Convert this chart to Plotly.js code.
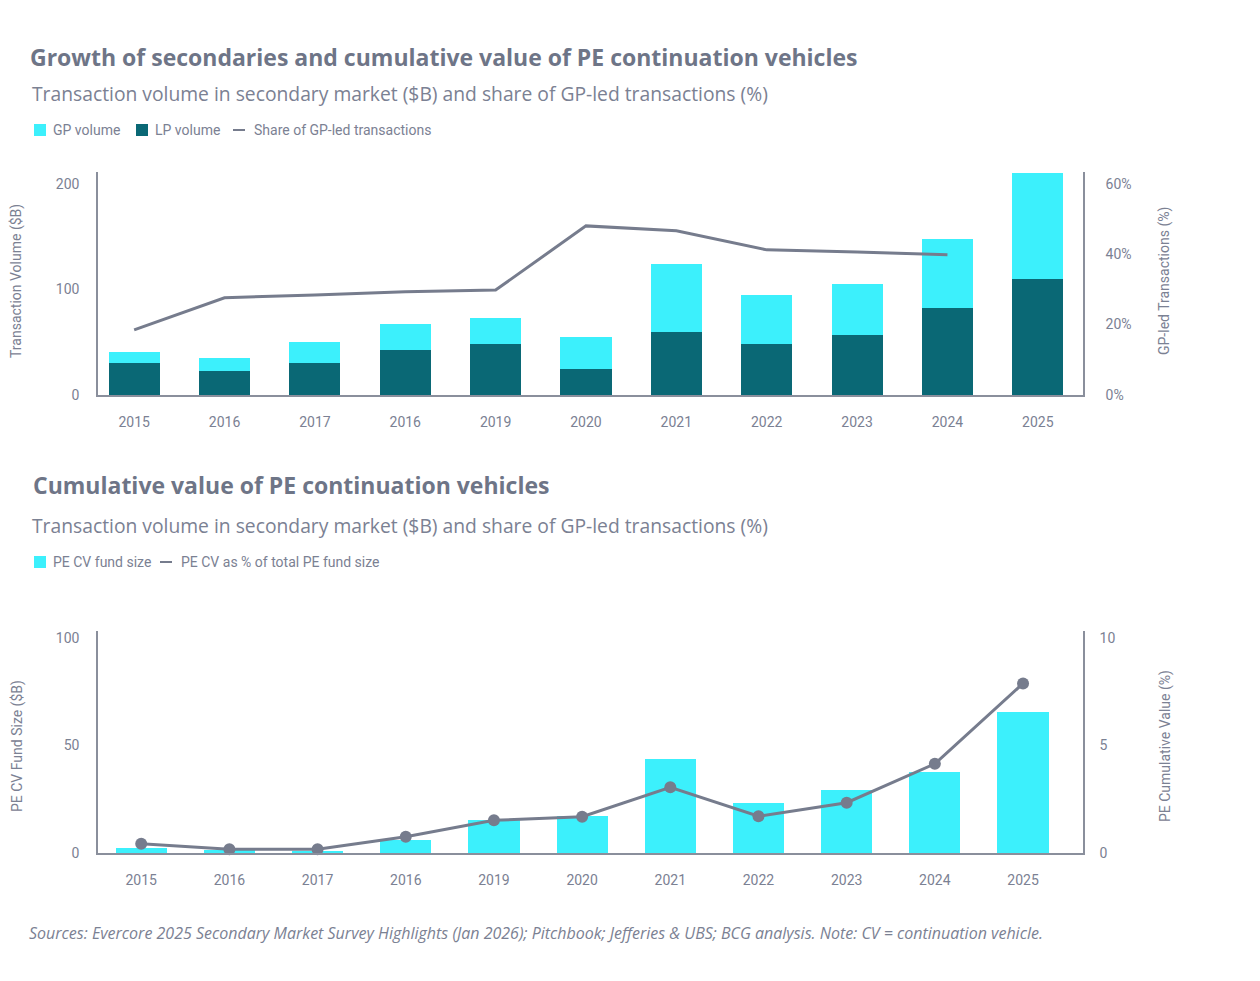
<!DOCTYPE html>
<html>
<head>
<meta charset="utf-8">
<script src="https://cdn.plot.ly/plotly-3.0.1.min.js"></script>
<style>
  html, body { margin: 0; padding: 0; background: #ffffff; }
  #chart { width: 1260px; height: 981px; }
</style>
</head>
<body>
<div id="chart"></div>
<script>
// ── Data ───────────────────────────────────────────────────────────────────
// year labels as printed in the source (note the repeated "2016")
const YEARS = ['2015', '2016', '2017', '2016', '2019', '2020', '2021', '2022', '2023', '2024', '2025'];

// Top panel: secondary market volume ($B) and GP-led share (%)
const LP_VOLUME = [30, 23, 30, 43, 48, 25, 60, 48, 57, 82, 110];
const GP_VOLUME = [10.5, 12, 20, 24, 24.5, 30, 63.5, 46.5, 48.5, 66, 100];
const GP_LED_SHARE = [18.5, 27.6, 28.4, 29.3, 29.8, 48, 46.6, 41.2, 40.6, 39.8, null];
const SHARE_TICKS = [0, 20, 40, 60];

// Bottom panel: PE continuation vehicle fund size ($B) and share of total PE (%)
const CV_FUND_SIZE = [2.3, 1.4, 0.6, 6, 15.3, 17.2, 43.7, 23.3, 29.3, 37.7, 65.6];
const CV_SHARE = [0.43, 0.17, 0.17, 0.76, 1.52, 1.69, 3.06, 1.71, 2.34, 4.15, 7.89];

// ── Design tokens ──────────────────────────────────────────────────────────
const CYAN = '#3cf0fc';
const TEAL = '#0a6875';
const LINE = '#767c8d';
const TITLE_C = '#6e7587';
const TEXT_C = '#7b8193';
const AXIS_C = '#8a8f9c';

const NARROW = 'Roboto, "Liberation Sans", sans-serif';
const SANS = '"Open Sans", "Noto Sans", sans-serif';

const W = 1260, H = 981;
const px = x => x / W;          // paper x from pixel
const py = y => 1 - y / H;      // paper y from pixel

const idx = YEARS.map((_, i) => i);

// ── Traces ─────────────────────────────────────────────────────────────────
const traces = [
  { type: 'bar', x: idx, y: LP_VOLUME, name: 'LP volume', xaxis: 'x', yaxis: 'y',
    width: 0.565, marker: { color: TEAL }, showlegend: false,
    hovertemplate: 'LP volume: %{y}<extra></extra>' },
  { type: 'bar', x: idx, y: GP_VOLUME, name: 'GP volume', xaxis: 'x', yaxis: 'y',
    width: 0.565, marker: { color: CYAN }, showlegend: false,
    hovertemplate: 'GP volume: %{y}<extra></extra>' },
  { type: 'scatter', mode: 'lines', x: idx, y: GP_LED_SHARE, name: 'Share of GP-led transactions',
    xaxis: 'x', yaxis: 'y2', line: { color: LINE, width: 3 }, showlegend: false,
    hovertemplate: '%{y}%<extra></extra>' },

  { type: 'bar', x: idx, y: CV_FUND_SIZE, name: 'PE CV fund size', xaxis: 'x3', yaxis: 'y3',
    width: 0.58, marker: { color: CYAN }, showlegend: false,
    hovertemplate: '%{y}<extra></extra>' },
  { type: 'scatter', mode: 'lines+markers', x: idx, y: CV_SHARE, name: 'PE CV as % of total PE fund size',
    xaxis: 'x3', yaxis: 'y4', line: { color: LINE, width: 3 },
    marker: { color: LINE, size: 12 }, cliponaxis: false, showlegend: false,
    hovertemplate: '%{y}%<extra></extra>' },
];

// ── Axes ───────────────────────────────────────────────────────────────────
const tickFont = { family: NARROW, size: 14, color: TEXT_C };

function xAxis(range, anchor) {
  return {
    domain: [px(98), px(1083)], range, anchor,
    tickmode: 'array', tickvals: idx, ticktext: YEARS,
    showline: true, linecolor: AXIS_C, linewidth: 1.5,
    showgrid: false, zeroline: false,
    ticks: 'outside', ticklen: 13, tickcolor: 'rgba(0,0,0,0)',
    tickfont: tickFont, fixedrange: true,
  };
}

function yAxis(domain, range, tickvals, extra) {
  return Object.assign({
    domain, range, tickmode: 'array', tickvals,
    showline: true, linecolor: AXIS_C, linewidth: 1.5,
    showgrid: false, zeroline: false,
    ticks: 'outside', ticklen: 14, tickcolor: 'rgba(0,0,0,0)',
    tickfont: tickFont, fixedrange: true,
  }, extra || {});
}

// ── Text ───────────────────────────────────────────────────────────────────
function label(text, x, y, font, extra) {
  return Object.assign({
    text, x: px(x), y: py(y), xref: 'paper', yref: 'paper',
    xanchor: 'left', yanchor: 'middle', showarrow: false, font,
  }, extra || {});
}

const titleFont = { family: SANS, size: 23, color: TITLE_C, weight: 700 };
const subFont = { family: SANS, size: 19.3, color: TEXT_C, weight: 400 };
const legFont = { family: NARROW, size: 14, color: TEXT_C };
const axTitleFont = { family: NARROW, size: 14, color: TEXT_C };

const annotations = [
  label('Growth of secondaries and cumulative value of PE continuation vehicles', 28, 57, titleFont),
  label('Transaction volume in secondary market ($B) and share of GP-led transactions (%)', 30, 93, subFont),
  label('GP volume', 51, 130, legFont),
  label('LP volume', 153, 130, legFont),
  label('Share of GP-led transactions', 252, 130, legFont),

  label('Cumulative value of PE continuation vehicles', 31, 485, titleFont),
  label('Transaction volume in secondary market ($B) and share of GP-led transactions (%)', 30, 525, subFont),
  label('PE CV fund size', 51, 562, legFont),
  label('PE CV as % of total PE fund size', 179, 562, legFont),

  label('Transaction Volume ($B)', 17, 281, axTitleFont, { xanchor: 'center', textangle: -90 }),
  label('GP-led Transactions (%)', 1165, 281, axTitleFont, { xanchor: 'center', textangle: -90 }),
  label('PE CV Fund Size ($B)', 17, 746, axTitleFont, { xanchor: 'center', textangle: -90 }),
  label('PE Cumulative Value (%)', 1165, 746, axTitleFont, { xanchor: 'center', textangle: -90 }),

  label('Sources: Evercore 2025 Secondary Market Survey Highlights (Jan 2026); Pitchbook; Jefferies &amp; UBS; BCG analysis. Note: CV = continuation vehicle.',
    27, 933, { family: SANS, size: 16, color: TEXT_C, style: 'italic' }),
];

// legend keys
function square(x, y, color) {
  return { type: 'rect', xref: 'paper', yref: 'paper',
    x0: px(x), x1: px(x + 12), y0: py(y + 6), y1: py(y - 6),
    fillcolor: color, line: { width: 0 } };
}
function dash(x, y) {
  return { type: 'line', xref: 'paper', yref: 'paper',
    x0: px(x), x1: px(x + 12), y0: py(y), y1: py(y),
    line: { color: LINE, width: 2 } };
}

const shapes = [
  square(34, 130, CYAN), square(136, 130, TEAL), dash(233, 130),
  square(34, 562, CYAN), dash(160, 562),
];

const layout = {
  width: W, height: H,
  margin: { l: 0, r: 0, t: 0, b: 0 },
  paper_bgcolor: '#ffffff', plot_bgcolor: 'rgba(0,0,0,0)',
  barmode: 'stack', showlegend: false,
  font: { family: NARROW, color: TEXT_C },
  xaxis: xAxis([-0.4, 10.5], 'y'),
  yaxis: yAxis([py(395), py(172)], [0, 211], [0, 100, 200]),
  yaxis2: yAxis([py(395), py(172)], [0, 63.3], SHARE_TICKS,
    { overlaying: 'y', side: 'right', ticktext: SHARE_TICKS.map(v => v + '%'), ticklen: 18, anchor: 'x' }),
  xaxis3: xAxis([-0.49, 10.68], 'y3'),
  yaxis3: yAxis([py(853), py(631)], [0, 103.3], [0, 50, 100], { anchor: 'x3' }),
  yaxis4: yAxis([py(853), py(631)], [0, 10.33], [0, 5, 10],
    { overlaying: 'y3', side: 'right', ticklen: 12, anchor: 'x3' }),
  annotations, shapes,
};

Plotly.newPlot('chart', traces, layout, { displayModeBar: false });
</script>
</body>
</html>
